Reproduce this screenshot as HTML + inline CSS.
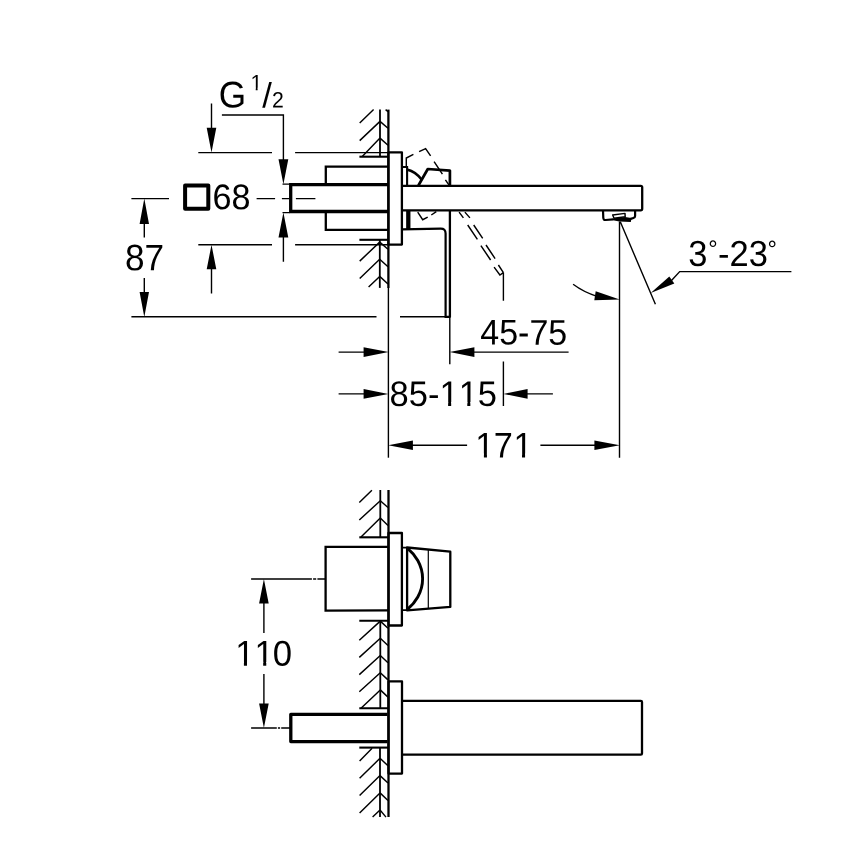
<!DOCTYPE html>
<html><head><meta charset="utf-8"><title>Drawing</title>
<style>
html,body{margin:0;padding:0;background:#fff;}
svg{display:block;}
text{font-family:"Liberation Sans",sans-serif;fill:#000;font-size:34.5px;font-kerning:none;}
svg{will-change:transform;}
.t{stroke:#000;stroke-width:1.4;fill:none;}
.h{stroke:#000;stroke-width:1.45;fill:none;}
.hv{stroke:#000;stroke-width:1.8;fill:none;}
.hb{stroke:#000;stroke-width:2.1;fill:none;}
.m{stroke:#000;stroke-width:2.3;fill:none;}
.k{stroke:#000;stroke-width:3.3;fill:none;}
.a{fill:#000;stroke:none;}
</style></head><body>
<svg width="868" height="868" viewBox="0 0 868 868">
<rect width="868" height="868" fill="#fff"/>
<defs>
<clipPath id="c110"><path clip-rule="evenodd" d="M-6,-37.95 H80.00 V13.80 H-6 Z M2.28,-3.79 H9.56 V1.73 H2.28 Z M12.63,-3.79 H19.53 V1.73 H12.63 Z M21.46,-3.79 H28.74 V1.73 H21.46 Z M31.81,-3.79 H38.71 V1.73 H31.81 Z"/></clipPath>
<clipPath id="c171"><path clip-rule="evenodd" d="M-6,-37.95 H80.00 V13.80 H-6 Z M1.98,-3.79 H9.26 V1.73 H1.98 Z M12.33,-3.79 H19.23 V1.73 H12.33 Z M40.34,-3.79 H47.62 V1.73 H40.34 Z M50.69,-3.79 H57.59 V1.73 H50.69 Z"/></clipPath>
<clipPath id="c85"><path clip-rule="evenodd" d="M-6,-37.95 H130.00 V13.80 H-6 Z M51.23,-3.79 H58.51 V1.73 H51.23 Z M61.58,-3.79 H68.48 V1.73 H61.58 Z M70.41,-3.79 H77.69 V1.73 H70.41 Z M80.76,-3.79 H87.66 V1.73 H80.76 Z"/></clipPath>
<clipPath id="c1"><path clip-rule="evenodd" d="M-6,-23.32 H20.00 V8.48 H-6 Z M0.85,-2.33 H5.32 V1.06 H0.85 Z M7.21,-2.33 H11.45 V1.06 H7.21 Z"/></clipPath>
</defs>

<!-- ===== TOP (side) VIEW ===== -->
<!-- upper hatch -->
<g id="hatch-top-a">
<path class="h" d="M359.7,123.1 L373.6,109.6 M359.7,140.6 L380,121.4 M362,156.7 L380,138.1 M380,121.4 L388,128.3 M380,138.1 L388,145.3 M385.6,109.6 L388,111.6"/>
<path class="hv" d="M380,109.6 V156.7"/>
<path class="hb" d="M359.4,156.7 H388.4"/>
</g>
<!-- lower hatch -->
<g id="hatch-top-b">
<path class="h" d="M359.7,261.1 L379.7,242.1 M359.7,278.6 L379.7,259.3 M368.6,287.1 L379.7,276.4 M379.7,242.1 L388,249.3 M379.7,259.3 L388,266.8 M379.7,276.4 L388,284"/>
<path class="hv" d="M379.8,239.8 V287.9"/>
<path class="hb" d="M359.4,239.8 H388.4"/>
</g>
<!-- wall -->
<path class="m" d="M388.4,109.6 V287.9"/>
<path class="t" d="M388.4,287 V457.7"/>

<!-- dimension 68 ext lines -->
<path class="t" d="M198.3,152.6 H272 M295.1,152.6 H388 M198.3,244.8 H272 M295.1,244.8 H388"/>
<path class="t" d="M211.5,103.4 V130 M211.5,267 V293.5"/>
<path class="a" d="M211.5,152.6 L206.7,127.8 H216.3 Z M211.5,244.8 L206.7,269.3 H216.3 Z"/>

<!-- G 1/2 -->
<text transform="translate(218.8,107.6) rotate(0.03) scale(1.02,1.075)">G</text>
<text transform="translate(250.4,90.3) rotate(0.03) scale(1,1.05)" style="font-size:21.2px" clip-path="url(#c1)">1</text>
<text transform="translate(262.3,107.6) rotate(0.03) scale(1,1.02)">/</text>
<text transform="translate(272.1,107.6) rotate(0.03) scale(1,1.05)" style="font-size:21.2px">2</text>
<path class="t" d="M221.9,115 H283.4 V161 M283.4,235 V261.7 M282.5,184.1 H289.5 M282.5,212.6 H289.5"/>
<path class="a" d="M283.4,184.2 L278.5,159.2 H288.3 Z M283.4,212.5 L278.5,237.4 H288.3 Z"/>

<!-- square 68 -->
<rect x="185.1" y="185.4" width="23.2" height="23.3" fill="none" stroke="#000" stroke-width="4" stroke-linejoin="round"/>
<text transform="translate(212.5,209.3) rotate(0.03) scale(0.99,1.035)">68</text>
<path class="t" d="M256.6,198.6 H275.1 M281.9,198.6 H289.5 M295.9,198.6 H315.4"/>

<!-- 87 -->
<path class="t" d="M131.4,198.6 H169 M144.3,221 V237.6 M144.3,278 V294 M131.4,316.8 H376.5 M400,316.8 H445.5"/>
<path class="a" d="M144.3,198.4 L139.6,223.9 H149 Z M144.3,317 L139.6,292 H149 Z"/>
<text transform="translate(124.9,270.3) rotate(0.03) scale(1.02,1.07)">87</text>

<!-- pipe + body -->
<path class="m" d="M388,166.6 H325.8 V184.7 M325.8,211.5 V229.9 H388"/>
<path class="k" d="M388,184.7 H290.7 V211.5 H388"/>

<!-- plate -->
<rect class="m" x="388.4" y="152.3" width="13.5" height="92.3" stroke-linejoin="round"/>

<!-- small pieces -->
<path d="M402,167 H407.1 V185.8" fill="none" stroke="#000" stroke-width="2.1"/>
<path d="M408.3,210.3 V229.3" fill="none" stroke="#000" stroke-width="4.3"/>
<path d="M407,169.4 Q416,171.6 421.6,179.6" fill="none" stroke="#000" stroke-width="2.6"/>
<!-- handle -->
<path d="M418.4,185.5 L427.8,169 L449.9,170.6 V185.5" stroke-linejoin="round" fill="none" stroke="#000" stroke-width="2.7"/>
<!-- dashed handle -->
<path class="h" d="M406.3,167.4 V158 L413.4,154.4 M419.1,151.6 L425.6,148.6 L430.6,155.9 M434.1,161.7 L442.4,174.2 M445.4,179.8 L449.4,185.6 M417.7,212.1 L422.7,219.7 L427.7,217.1 M431.3,215 L436.3,211.7"/>
<!-- spout -->
<path class="m" d="M402.5,185.8 H640.7 Q642.2,185.8 642.2,187.3 V208.8 Q642.2,210.3 640.7,210.3 H402.5"/>
<!-- lever -->
<path class="m" d="M449.9,210.3 V317.6"/>
<path d="M402,229.4 L440.6,228.6 Q445.6,228.5 445.6,233.5 V316.8 H450" fill="none" stroke="#000" stroke-width="2.2"/>
<path class="t" d="M449.8,316 V364.3"/>
<!-- dashed lever -->
<path class="h" d="M459.1,212.1 L463.4,217.9 M467.7,225 L477.4,239.3 M480.9,245.7 L490.6,260 M494.1,267.1 L499.9,275 L503.4,272.6 M464.9,212.1 L469.9,217.9 M473.7,225 L482.7,238.3 M486,245 L495.1,258.6 M498.4,265 L503.4,272.6"/>
<path class="t" d="M503.4,272.6 V300.7 M503.4,361.4 V406"/>

<!-- aerator -->
<path d="M603,210.3 L603.3,218 Q603.5,220.2 605.6,220 L613.2,219.4 M635.1,210.3 V216 Q635.1,217.6 633.4,218 L630.6,218.9" fill="none" stroke="#000" stroke-width="2.2"/>
<path class="a" d="M612.9,218.5 L625,217.1 L631.5,217.9 L630.8,221.9 L619.3,221.5 L612.9,220.2 Z"/>
<path d="M612.7,215 L625,213.4 L625.2,216.8 L614,218.2 Z" fill="#fff" stroke="#000" stroke-width="1.45" stroke-linejoin="round"/>

<!-- angle lines -->
<path class="t" d="M619.5,221.6 V457.7 M620.3,221.8 L655.4,304.3"/>
<path class="t" d="M573.1,284.3 A78.6,78.6 0 0 0 597,296.3"/>
<path class="a" d="M619.7,299.6 L595.7,291.3 L594.3,300.2 Z"/>
<path class="a" d="M650.7,292.9 L669.3,276.4 L674.3,283.6 Z"/>
<path class="t" d="M671.5,280.4 L679.7,271.6 H791.4"/>
<text transform="translate(688.2,266) rotate(0.03) scale(1,1.053)"><tspan>3</tspan><tspan x="20.1" y="-8" style="font-size:23.5px">°</tspan><tspan x="29.8" y="0">-23</tspan><tspan x="79.2" y="-8" style="font-size:23.5px">°</tspan></text>

<!-- dims -->
<path class="t" d="M338.6,352.1 H365 M473,352.1 H568.6 M338.6,393.9 H365 M526,393.9 H552.9 M411,445.2 H467.1 M540.4,445.2 H596"/>
<path class="a" d="M388.6,352.1 L363.6,347.3 V356.9 Z M449.6,352.1 L474.4,347.3 V356.9 Z M388.4,393.9 L363.6,389.1 V398.7 Z M503.4,393.9 L527.6,389.1 V398.7 Z M388.2,445.2 L412.9,440.4 V450 Z M619.8,445.2 L594.4,440.4 V450 Z"/>
<text transform="translate(480.3,344.6) rotate(0.03) scale(0.985,1.036)">45-75</text>
<text transform="translate(389.6,405.9) rotate(0.03) scale(1,1.03)" clip-path="url(#c85)">85-115</text>
<text transform="translate(474.7,457.4) rotate(0.03) scale(0.994,1.03)" clip-path="url(#c171)" x="0.6 19.18 38.96">171</text>

<!-- ===== BOTTOM (top) VIEW ===== -->
<g id="hatch-b1">
<path class="h" d="M359.3,502.6 L371.9,490.3 M359.3,520 L380.3,500.7 M361,537.1 L380.3,517.9 M380.3,500.7 L388,507.5 M380.3,517.9 L388,525.4"/>
<path class="hv" d="M380.3,490 V537.3"/>
<path class="hb" d="M359.3,537.3 H388.4"/>
</g>
<g id="hatch-b2">
<path class="h" d="M359.3,640.3 L380.3,621.1 M359.3,657.4 L380.3,638.3 M359.3,674.6 L380.3,655.5 M359.3,691.8 L380.3,672.7 M361,708.3 L380.3,689.9 M380.3,621.1 L388,628.3 M380.3,638.3 L388,645.5 M380.3,655.5 L388,662.7 M380.3,672.7 L388,679.9 M380.3,689.9 L388,697.1"/>
<path class="hv" d="M380.3,620.7 V708.3"/>
<path class="hb" d="M359.3,620.7 H388.4 M359.3,708.3 H388.4"/>
</g>
<g id="hatch-b3">
<path class="h" d="M359.6,761.1 L372.1,748.3 M359.6,778.3 L380,758.3 M359.6,795.5 L380,775.6 M359.6,812.9 L380,792.9 M372.6,817.1 L380,810 M380,758.3 L388,765.8 M380,775.6 L388,783 M380,792.9 L388,800.5 M380,810 L386,817.1"/>
<path class="hv" d="M380,747.6 V817.1"/>
<path class="hb" d="M359.3,747.6 H388.4"/>
</g>
<path class="m" d="M388.5,490 V817.1"/>
<!-- plates -->
<rect class="m" x="388.5" y="533" width="13.4" height="92.5" stroke-linejoin="round"/>
<rect class="m" x="388.5" y="681.4" width="13.5" height="92.2" stroke-linejoin="round"/>
<!-- box -->
<path class="m" d="M388,546.9 H325.6 V610.7 L388,610.3"/>
<path class="t" d="M251.1,579 H311.9 M313.1,579 H316.2 M317.4,579 H325.6"/>
<!-- handle top view -->
<path d="M402,547.6 H407 M402,610.2 H407" fill="none" stroke="#000" stroke-width="1.8"/>
<path class="m" d="M407.1,547.5 L450.3,551.7 V606.9 L407.1,610.4 Z" stroke-linejoin="round"/>
<path d="M428.3,549 V608.6" fill="none" stroke="#000" stroke-width="1.2"/>
<path d="M407.8,548.6 C414.7,554.2 422.6,564.8 422.6,578.8 C422.6,592.8 414.7,603.4 407.8,609" fill="none" stroke="#000" stroke-width="2.9"/>
<!-- pipe -->
<path class="k" d="M387.5,714.3 H290.8 V741.6 H387.5" stroke-linejoin="round"/>
<!-- spout -->
<path class="m" d="M402.8,700.8 H640.8 Q642,700.8 642,702 V753.5 Q642,754.7 640.8,754.7 H402.8"/>
<!-- 110 -->
<path class="t" d="M263.9,601 V632.9 M263.9,673.9 V706 M251.1,728 H276.8 M277.9,728 H280.1 M281.2,728 H290"/>
<path class="a" d="M263.9,578.9 L259.1,603.6 H268.7 Z M263.9,727.9 L259.1,703.6 H268.7 Z"/>
<text transform="translate(234.3,665.8) rotate(0.03) scale(1.005,1.04)" clip-path="url(#c110)" x="0.9 20.08 38.36">110</text>
</svg>
</body></html>
